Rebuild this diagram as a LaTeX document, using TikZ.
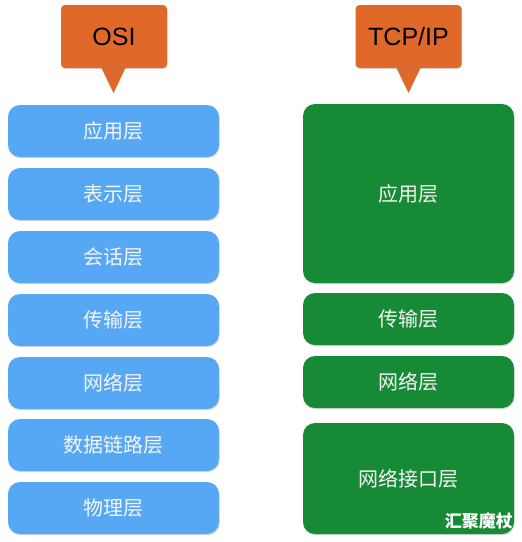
\documentclass[tikz,border=0pt]{standalone}
\usepackage{fontspec}
\setmainfont{Liberation Sans}
\newfontfamily\cjk{Noto Sans CJK SC}
\usepackage{tikz}
\usetikzlibrary{shadows, positioning}

\definecolor{osiblue}{HTML}{56A8F5}
\definecolor{tcpgreen}{HTML}{178A36}
\definecolor{tagorange}{HTML}{E0692A}

\tikzset{
  layer/.style={rounded corners=12pt, minimum width=211pt, minimum height=52pt, inner sep=0pt,
    text=white!92!gray, font=\cjk\fontsize{20}{24}\selectfont,
    drop shadow={shadow xshift=0.6pt, shadow yshift=-1.2pt, opacity=0.3, fill=gray}},
  osilayer/.style={layer, fill=osiblue},
  tcplayer/.style={layer, fill=tcpgreen},
  tag/.style={fill=tagorange, rounded corners=4pt, minimum width=106pt, minimum height=63pt,
    inner sep=0pt, font=\fontsize{25}{30}\selectfont,
    drop shadow={shadow xshift=0.6pt, shadow yshift=-1pt, opacity=0.3, fill=gray}}
}

\begin{document}
\begin{tikzpicture}[x=1pt,y=-1pt]
\fill [white] (0,0) rectangle (522,542);
\useasboundingbox (0,0) rectangle (522,542);

% OSI column
\fill [tagorange] (101,67) -- (113.5,93) -- (126,67) -- cycle;
\node [tag] (osi) at (114,36.5) {OSI};
\node [osilayer] (app) at (113.5,131) {应用层};
\node [osilayer] (pres) at (113.5,194) {表示层};
\node [osilayer] (sess) at (113.5,257) {会话层};
\node [osilayer] (trans) at (113.5,320) {传输层};
\node [osilayer] (net) at (113.5,383) {网络层};
\node [osilayer] (link) at (113.5,445) {数据链路层};
\node [osilayer] (phys) at (113.5,508) {物理层};

% TCP/IP column
\fill [tagorange] (396,67) -- (408.5,93) -- (421,67) -- cycle;
\node [tag] (tcpip) at (408.5,36.5) {TCP/IP};
\node [tcplayer, minimum height=179pt] (tapp) at (408.5,193.5) {应用层};
\node [tcplayer] (ttrans) at (408.5,319) {传输层};
\node [tcplayer] (tnet) at (408.5,382) {网络层};
\node [tcplayer, minimum height=111pt] (tiface) at (408.5,478.5) {网络接口层};

\node [anchor=south east, inner sep=0pt, text=white, font=\cjk\bfseries\fontsize{17}{20}\selectfont]
  (mark) at (513,529) {汇聚魔杖};
\end{tikzpicture}
\end{document}
